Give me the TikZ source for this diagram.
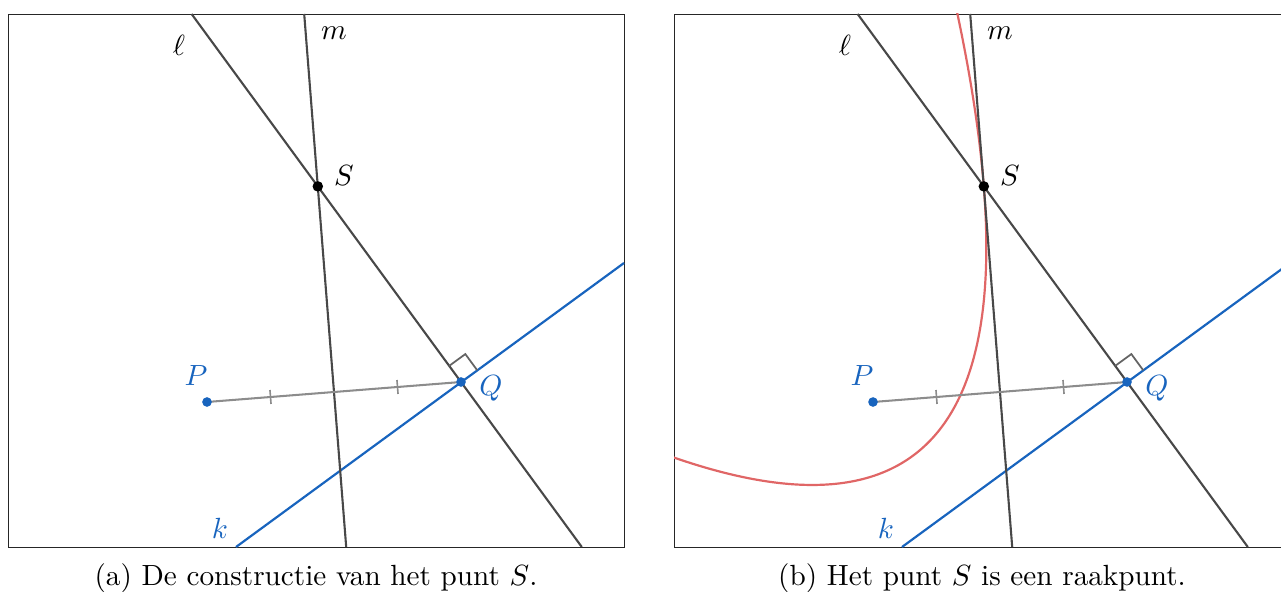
\documentclass[tikz,border=0pt]{standalone}
\usetikzlibrary{calc}
\definecolor{kblue}{RGB}{24,100,190}
\definecolor{dline}{RGB}{72,72,72}
\definecolor{segray}{RGB}{140,140,140}
\definecolor{ragray}{RGB}{100,100,100}
\definecolor{pred}{RGB}{224,102,102}
\tikzset{
  framebox/.style={draw=black!85, line width=0.3pt},
  gline/.style={draw=dline, line width=0.72pt},
  kline/.style={draw=kblue, line width=0.75pt},
  seg/.style={draw=segray, line width=0.7pt},
  tickmark/.style={draw=segray, line width=0.55pt},
  rangle/.style={draw=ragray, line width=0.6pt},
  bdot/.style={circle, fill=kblue, inner sep=0pt, minimum size=3.3pt},
  sdot/.style={circle, fill=black, inner sep=0pt, minimum size=3.6pt},
  lab/.style={inner sep=0pt},
  blab/.style={inner sep=0pt, text=kblue},
  parab/.style={draw=pred, line width=0.75pt},
}
% #1 prefix, #2 x offset (px), #3 caption, #4 extra drawing under the lines
\newcommand\geopanel[4]{%
  \coordinate (#1tl) at (#2+8,14);
  \coordinate (#1br) at (#2+624,547);
  \coordinate (#1l1) at (#2+191.6,14);
  \coordinate (#1l2) at (#2+581.8,547);
  \coordinate (#1m1) at (#2+304.2,14);
  \coordinate (#1m2) at (#2+346.2,547);
  \coordinate (#1k1) at (#2+236,547);
  \coordinate (#1k2) at (#2+624,263);
  \coordinate (#1Ppt) at (#2+207,402);
  \coordinate (#1Qpt) at (#2+461,382);
  \coordinate (#1Spt) at (intersection of #1l1--#1l2 and #1m1--#1m2);
  \draw[framebox] (#1tl) rectangle (#1br);
  #4
  \draw[kline] (#1k1) -- (#1k2);
  \draw[gline] (#1l1) -- (#1l2);
  \draw[gline] (#1m1) -- (#1m2);
  \draw[seg] (#1Ppt) -- (#1Qpt);
  \coordinate (#1t1) at ($(#1Ppt)!0.25!(#1Qpt)$);
  \coordinate (#1t2) at ($(#1Ppt)!0.75!(#1Qpt)$);
  \draw[tickmark] ($(#1t1)!2.4pt!90:(#1Qpt)$) -- ($(#1t1)!2.4pt!-90:(#1Qpt)$);
  \draw[tickmark] ($(#1t2)!2.4pt!90:(#1Qpt)$) -- ($(#1t2)!2.4pt!-90:(#1Qpt)$);
  \coordinate (#1ra) at ($(#1Qpt)!6.85pt!(#1l1)$);
  \coordinate (#1rb) at ($(#1Qpt)!6.85pt!(#1k2)$);
  \draw[rangle] (#1ra) -- ($(#1ra)+(#1rb)-(#1Qpt)$) -- (#1rb);
  \node[bdot] (#1P) at (#1Ppt) {};
  \node[bdot] (#1Q) at (#1Qpt) {};
  \node[sdot] (#1S) at (#1Spt) {};
  \node[lab] (#1labl) at (#2+179,45) {$\ell$};
  \node[lab] (#1labm) at (#2+334,33) {$m$};
  \node[lab] (#1labS) at (#2+344,176) {$S$};
  \node[blab] (#1labP) at (#2+196,376) {$P$};
  \node[blab] (#1labQ) at (#2+491,388) {$Q$};
  \node[blab] (#1labk) at (#2+220,528) {$k$};
  \node[anchor=base] (#1cap) at (#2+316,585) {#3};
}
\newcommand\drawparab{%
  \begin{scope}
    \clip (btl) rectangle (bbr);
    \begin{scope}[shift={(bQpt)}, x={(0.2764pt,0.2023pt)}, y={(-0.2023pt,0.2764pt)}]
      \draw[parab] plot[domain=-460:110, samples=160, smooth] (\x, {((\x+216.8)/16.364)^2+66.95});
    \end{scope}
  \end{scope}
}
\begin{document}
\begin{tikzpicture}[x=0.3425pt, y=-0.3425pt]
  \path[use as bounding box] (0,0) rectangle (1281,592);
  \clip (0,0) rectangle (1281,592);
  \geopanel{a}{0}{(a) De constructie van het punt $S$.}{}
  \geopanel{b}{666}{(b) Het punt $S$ is een raakpunt.}{\drawparab}
\end{tikzpicture}
\end{document}
